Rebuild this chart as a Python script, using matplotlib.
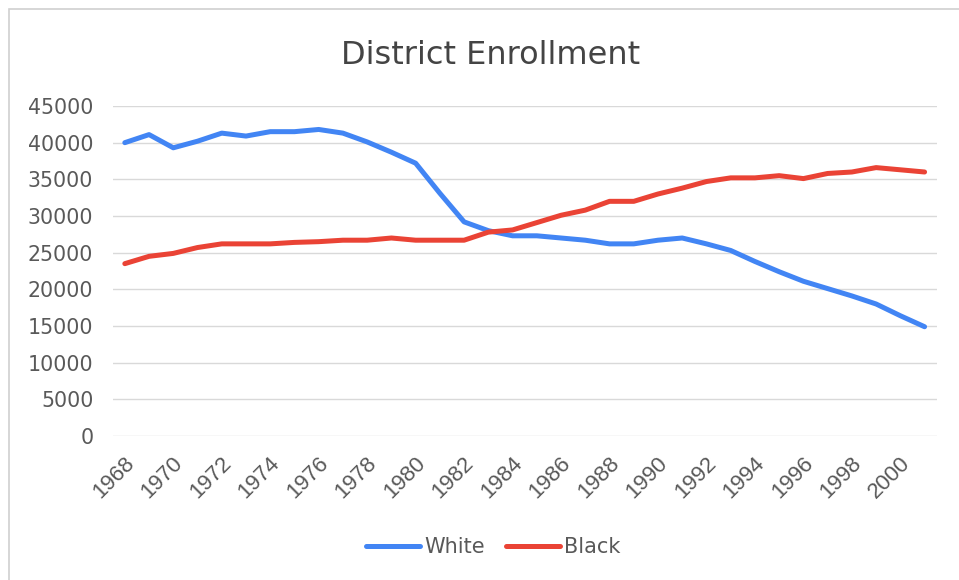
import matplotlib
matplotlib.use("Agg")
import matplotlib.pyplot as plt
import matplotlib.transforms as mtransforms
from matplotlib.patches import Rectangle

years = list(range(1968, 2002))
white = [40000, 41100, 39300, 40200, 41300, 40900, 41500, 41500, 41800, 41300,
         40100, 38700, 37200, 33100, 29200, 28000, 27300, 27300, 27000, 26700,
         26200, 26200, 26700, 27000, 26200, 25300, 23800, 22400, 21100, 20100,
         19100, 18000, 16400, 14900]
black = [23500, 24500, 24900, 25700, 26200, 26200, 26200, 26400, 26500, 26700,
         26700, 27000, 26700, 26700, 26700, 27800, 28100, 29100, 30100, 30800,
         32000, 32000, 33000, 33800, 34700, 35200, 35200, 35500, 35100, 35800,
         36000, 36600, 36300, 36000]
yticks = list(range(0, 45001, 5000))

TEXT = "#595959"
plt.rcParams['font.family'] = ['DejaVu Sans']

fig = plt.figure(figsize=(9.59, 5.80), dpi=100)
fig.patches.append(Rectangle((9/959, -0.01), 1.0, 1 - 9.5/580 + 0.01,
                             transform=fig.transFigure, fill=False,
                             edgecolor="#d0d0d0", linewidth=1.2))
ax = fig.add_axes([112.7/959, 1 - 436/580, 824/959, 330/580])

x = list(range(len(years)))
ax.plot(x, white, color="#4285F4", linewidth=3.6, label="White", solid_capstyle='round')
ax.plot(x, black, color="#EA4335", linewidth=3.6, label="Black", solid_capstyle='round')

ax.set_xlim(-0.5, len(years) - 0.5)
ax.set_ylim(0, 45000)
ax.grid(axis='y', color="#d9d9d9", linewidth=1)
ax.set_axisbelow(True)
for s in ax.spines.values():
    s.set_visible(False)
ax.tick_params(axis='y', length=0, colors=TEXT, pad=14, labelsize=14.8)
ax.tick_params(axis='x', length=0, colors=TEXT, pad=0)

ax.set_yticks(yticks)
ax.set_yticklabels([str(v) for v in yticks])

tick_idx = list(range(0, len(years), 2))
ax.set_xticks(tick_idx)
ax.set_xticklabels([str(years[i]) for i in tick_idx])
fig.canvas.draw()
offset = mtransforms.ScaledTranslation(-1/100, -17/100, fig.dpi_scale_trans)
for lab in ax.xaxis.get_majorticklabels():
    lab.set_fontfamily(['Liberation Sans', 'DejaVu Sans'])
    lab.set_fontsize(16)
    lab.set_rotation(45)
    lab.set_horizontalalignment('right')
    lab.set_verticalalignment('top')
    lab.set_rotation_mode('anchor')
    lab.set_transform(ax.get_xaxis_transform() + offset)

fig.text(491/959, 1 - 55/580, "District Enrollment", ha='center', va='center',
         fontsize=23, color="#444444")

ax.legend(loc='center', bbox_to_anchor=(493/959, 1 - 547/580),
          bbox_transform=fig.transFigure, ncol=2, frameon=False,
          fontsize=15, labelcolor=TEXT, handlelength=2.6, handletextpad=0.2,
          columnspacing=1.0)

fig.savefig("out.png", dpi=100)
